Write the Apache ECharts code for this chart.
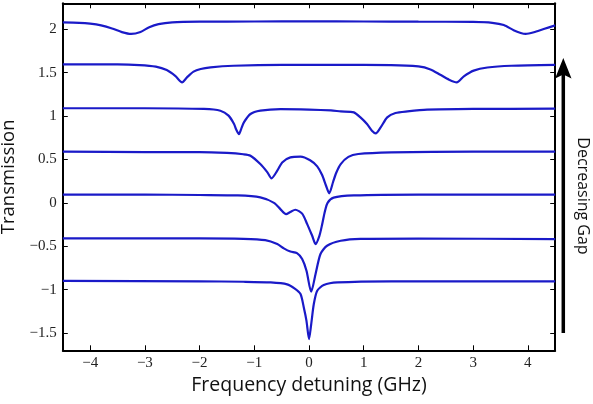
<!DOCTYPE html>
<html>
<head>
<meta charset="utf-8">
<script src="https://cdn.jsdelivr.net/npm/echarts@6/dist/echarts.min.js"></script>
<style>
html,body{margin:0;padding:0;background:#fff;}
#chart{width:593px;height:404px;}
</style>
</head>
<body>
<div id="chart"></div>
<script>
// ---- data ----
const xTicks = [-4, -3, -2, -1, 0, 1, 2, 3, 4];
const yTicks = [-1.5, -1, -0.5, 0, 0.5, 1, 1.5, 2];

const trace1 = [[-4.5,2.08],[-4.2,2.075],[-4.0,2.065],[-3.8,2.045],[-3.6,2.01],[-3.42,1.968],[-3.25,1.947],[-3.08,1.97],[-2.92,2.025],[-2.75,2.06],[-2.5,2.08],[-2.0,2.088],[-1.0,2.09],[0,2.092],[1.0,2.09],[2.0,2.088],[3.0,2.085],[3.35,2.075],[3.56,2.05],[3.74,1.99],[3.87,1.958],[3.96,1.947],[4.11,1.966],[4.29,2.004],[4.5,2.045]];
const trace2 = [[-4.5,1.595],[-3.5,1.595],[-3.1,1.588],[-2.8,1.57],[-2.6,1.53],[-2.44,1.46],[-2.32,1.389],[-2.23,1.446],[-2.11,1.512],[-1.98,1.543],[-1.8,1.562],[-1.38,1.58],[-0.5,1.59],[0.5,1.59],[1.5,1.588],[2.0,1.572],[2.22,1.538],[2.4,1.476],[2.56,1.42],[2.70,1.389],[2.83,1.458],[3.01,1.524],[3.26,1.56],[3.7,1.58],[4.5,1.59]];
const trace3 = [[-4.5,1.09],[-3.0,1.09],[-1.92,1.082],[-1.62,1.062],[-1.47,1.005],[-1.37,0.909],[-1.33,0.845],[-1.28,0.793],[-1.24,0.85],[-1.19,0.927],[-1.07,1.024],[-0.89,1.062],[-0.52,1.08],[0,1.075],[0.4,1.065],[0.58,1.054],[0.82,1.043],[0.94,0.985],[1.06,0.909],[1.15,0.832],[1.22,0.80],[1.31,0.87],[1.43,0.985],[1.58,1.035],[1.8,1.054],[2.16,1.074],[3.0,1.082],[4.5,1.085]];
const trace4 = [[-4.5,0.59],[-3.0,0.585],[-2.0,0.585],[-1.5,0.575],[-1.2,0.56],[-1.07,0.543],[-0.89,0.447],[-0.76,0.351],[-0.686,0.282],[-0.58,0.37],[-0.49,0.466],[-0.34,0.524],[-0.155,0.532],[0.02,0.49],[0.15,0.42],[0.24,0.32],[0.31,0.2],[0.37,0.11],[0.44,0.24],[0.50,0.35],[0.58,0.447],[0.72,0.53],[0.9,0.563],[1.5,0.582],[3.0,0.59],[4.5,0.59]];
const trace5 = [[-4.5,0.095],[-3.0,0.095],[-2.0,0.09],[-1.3,0.085],[-0.89,0.062],[-0.64,0.0],[-0.52,-0.075],[-0.42,-0.13],[-0.34,-0.105],[-0.25,-0.08],[-0.125,-0.125],[-0.033,-0.245],[0.058,-0.38],[0.12,-0.475],[0.19,-0.38],[0.24,-0.25],[0.29,-0.1],[0.34,0.0],[0.45,0.06],[0.82,0.085],[2.0,0.095],[4.5,0.095]];
const trace6 = [[-4.5,-0.41],[-2.0,-0.41],[-1.2,-0.415],[-0.8,-0.43],[-0.58,-0.475],[-0.46,-0.525],[-0.34,-0.562],[-0.22,-0.58],[-0.125,-0.648],[-0.046,-0.783],[0.04,-1.025],[0.12,-0.82],[0.21,-0.59],[0.33,-0.495],[0.58,-0.437],[0.94,-0.415],[2.0,-0.412],[4.5,-0.418]];
const trace7 = [[-4.5,-0.9],[-2.0,-0.905],[-1.2,-0.91],[-0.70,-0.918],[-0.40,-0.94],[-0.26,-0.99],[-0.155,-1.052],[-0.095,-1.206],[-0.046,-1.36],[0.0,-1.571],[0.04,-1.40],[0.088,-1.167],[0.15,-1.014],[0.27,-0.948],[0.52,-0.918],[1.5,-0.905],[4.5,-0.906]];
const traces = [trace1, trace2, trace3, trace4, trace5, trace6, trace7];

const xTitle = 'Frequency detuning (GHz)';
const yTitle = 'Transmission';
const sideNote = 'Decreasing Gap';

// ---- chart ----
const chart = echarts.init(document.getElementById('chart'), null, {renderer: 'canvas'});
const fmt = v => (v < 0 ? '\u2212' + Math.abs(v) : String(v));
const serif = '"Liberation Serif", "DejaVu Serif", serif';
const sans = '"Open Sans", "Noto Sans", sans-serif';
const lineColor = '#000';

function axisBase(extra) {
  return Object.assign({
    type: 'value',
    splitLine: {show: false},
    axisLine: {show: true, onZero: false, lineStyle: {color: lineColor, width: 2}},
  }, extra);
}

chart.setOption({
  animation: false,
  backgroundColor: '#fff',
  grid: {left: 62.8, right: 37.8, top: 3.3, bottom: 53.7, outerBoundsMode: 'none', containLabel: false},
  xAxis: [
    axisBase({
      position: 'bottom', min: -4.5, max: 4.5,
      axisTick: {show: true, inside: true, length: 5, customValues: xTicks, lineStyle: {color: lineColor, width: 1}},
      axisLabel: {show: true, customValues: xTicks, formatter: fmt, margin: 5, fontFamily: serif, fontSize: 15, color: '#222'},
      name: xTitle, nameLocation: 'middle', nameGap: 25,
      nameTextStyle: {fontFamily: sans, fontSize: 19.5, color: '#111'}
    }),
    axisBase({
      position: 'top', min: -4.5, max: 4.5,
      axisTick: {show: true, inside: true, length: 5, customValues: xTicks, lineStyle: {color: lineColor, width: 1}},
      axisLabel: {show: false}
    })
  ],
  yAxis: [
    axisBase({
      position: 'left', min: -1.7, max: 2.3,
      axisTick: {show: true, inside: true, length: 5, customValues: yTicks, lineStyle: {color: lineColor, width: 1}},
      axisLabel: {show: true, customValues: yTicks, formatter: fmt, margin: 6, fontFamily: serif, fontSize: 15, color: '#222'},
      name: yTitle, nameLocation: 'middle', nameGap: 36, nameRotate: 90,
      nameTextStyle: {fontFamily: sans, fontSize: 18.5, color: '#111'}
    }),
    axisBase({
      position: 'right', min: -1.7, max: 2.3,
      axisTick: {show: true, inside: true, length: 5, customValues: yTicks, lineStyle: {color: lineColor, width: 1}},
      axisLabel: {show: false}
    })
  ],
  series: traces.map((t, i) => ({
    type: 'line',
    name: 'trace' + (i + 1),
    xAxisIndex: 0, yAxisIndex: 0,
    data: t,
    showSymbol: false, symbol: 'none',
    smooth: 0.25,
    lineStyle: {color: '#1a1ac8', width: 2.2},
    silent: true
  })),
  graphic: [
    {type: 'line', shape: {x1: 563.3, y1: 333, x2: 563.3, y2: 72}, style: {stroke: '#000', lineWidth: 3.5}},
    {type: 'polygon', shape: {points: [[563.3, 58], [571.5, 78.5], [563.3, 74.5], [555.1, 78.5]]}, style: {fill: '#000'}},
    {type: 'text', x: 583, y: 196, rotation: -Math.PI / 2,
     style: {text: sideNote, fontFamily: sans, fontSize: 16, fill: '#111', align: 'center', verticalAlign: 'middle'}}
  ]
});
</script>
</body>
</html>
